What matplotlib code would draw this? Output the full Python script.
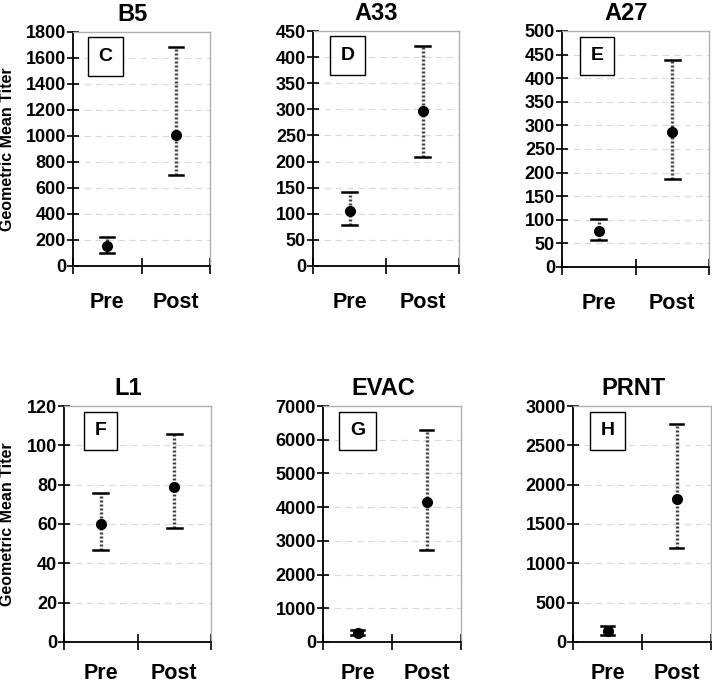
import matplotlib
matplotlib.use("Agg")
import matplotlib.pyplot as plt

plt.rcParams['font.family'] = ['Liberation Sans', 'DejaVu Sans']
plt.rcParams['font.weight'] = 'bold'

categories = ["Pre", "Post"]
titles = ["B5", "A33", "A27", "L1", "EVAC", "PRNT"]
letters = ["C", "D", "E", "F", "G", "H"]
gmt = [[155, 1008], [106, 296], [77, 287], [60, 79], [280, 4140], [135, 1817]]
lower = [[103, 700], [79, 208], [57, 187], [47, 58], [205, 2720], [89, 1200]]
upper = [[224, 1686], [141, 422], [102, 439], [76, 106], [370, 6280], [199, 2767]]
ymax = [1800, 450, 500, 120, 7000, 3000]
ystep = [200, 50, 50, 20, 1000, 500]
ylabel = "Geometric Mean Titer"

W, H = 712, 685
fig = plt.figure(figsize=(W / 100, H / 100), dpi=100)

# axes boxes in pixels: left, right, top, bottom
boxes = [
    (73, 210, 32, 266), (313, 459, 31, 266), (562, 709, 31, 267),
    (64, 211, 406, 642), (323, 461, 406, 642), (573, 711, 406, 642),
]

for i, (l, r, t, b) in enumerate(boxes):
    ax = fig.add_axes([l / W, 1 - b / H, (r - l) / W, (b - t) / H])
    ax.set_xlim(0, 2)
    ax.set_ylim(0, ymax[i])
    ticks = list(range(0, ymax[i] + 1, ystep[i]))
    ax.set_yticks(ticks)
    ax.set_yticklabels([str(v) for v in ticks], fontsize=13, fontweight='bold')
    for v in ticks[1:-1]:
        ax.axhline(v, color='#dadada', lw=0.8, ls=(0, (6, 4)), zorder=0)
    ax.set_xticks([0, 1, 2])
    ax.set_xticklabels([])
    ax.tick_params(axis='y', direction='inout', length=8, width=1.2, pad=1)
    ax.tick_params(axis='x', direction='inout', length=11.5, width=1.2)
    for s in ['top', 'right']:
        ax.spines[s].set_color('#b0b0b0')
        ax.spines[s].set_linewidth(1.0)
    for s in ['left', 'bottom']:
        ax.spines[s].set_color('black')
        ax.spines[s].set_linewidth(1.3)
    xs = [0.5, 1.5]
    for j in range(2):
        ax.plot([xs[j], xs[j]], [lower[i][j], upper[i][j]], color='#404040',
                lw=2.4, ls=(0, (0.6, 0.6)), zorder=2)
        ax.plot(xs[j], gmt[i][j], 'o', color='black', ms=7, zorder=4)
        for yv in (lower[i][j], upper[i][j]):
            ax.plot([xs[j] - 0.1, xs[j] + 0.1], [yv, yv], color='black', lw=1.8, zorder=3)
    hpx = b - t
    off = 36.5 if i < 3 else 31.5
    for j, c in enumerate(categories):
        ax.text(xs[j], -off / hpx, c, transform=ax.get_xaxis_transform(),
                ha='center', va='center', fontsize=15.5, fontweight='bold')
    ax.set_title(titles[i], fontsize=17, fontweight='bold', pad=8, x=0.435)
    lx = 0.237 if i < 3 else 0.25
    ax.text(lx, 0.895, letters[i], transform=ax.transAxes, ha='center', va='center',
            fontsize=14, fontweight='bold',
            bbox=dict(boxstyle='square,pad=0.55', fc='white', ec='black', lw=1.0))
    if i % 3 == 0:
        fig.text(8 / W, 1 - ((t + b) / 2) / H, ylabel, rotation=90,
                 ha='center', va='center', fontsize=11.5, fontweight='bold')

fig.savefig("out.png", dpi=100)
